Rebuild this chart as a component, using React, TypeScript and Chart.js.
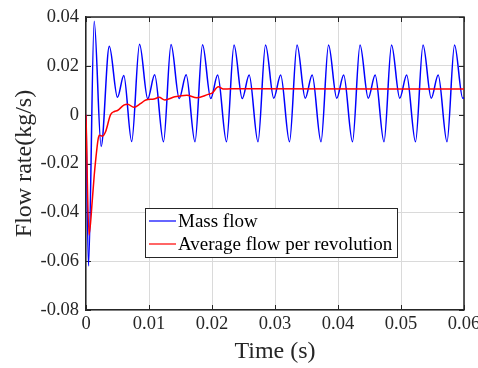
import React, { useEffect, useRef } from 'react';
import { Chart, registerables } from 'chart.js';

Chart.register(...registerables);

const FONT = "'Liberation Serif', 'Times New Roman', serif";
const TEXT = '#262626';

// Mass flow: time (s) and flow rate (kg/s) at the turning points of the curve
const massTime = [
  0, 0.0004, 0.0013, 0.0024, 0.0037, 0.005, 0.006, 0.00725,
  0.0085, 0.0098, 0.0109, 0.0123,
  0.0135, 0.0148, 0.0159, 0.0173,
  0.0185, 0.0198, 0.0209, 0.0223,
  0.0235, 0.0248, 0.0259, 0.0273,
  0.0285, 0.0298, 0.0309, 0.0323,
  0.0335, 0.0348, 0.0359, 0.0373,
  0.0385, 0.0398, 0.0409, 0.0423,
  0.0435, 0.0448, 0.0459, 0.0473,
  0.0485, 0.0498, 0.0509, 0.0523,
  0.0535, 0.0548, 0.0559, 0.0573,
  0.0585, 0.0598, 0.06,
];
const massFlow = [
  0, -0.062, 0.0383, -0.013, 0.028, 0.0071, 0.016, -0.011,
  0.0288, 0.0065, 0.0163, -0.0111,
  0.0287, 0.0066, 0.0163, -0.0111,
  0.0286, 0.0066, 0.0162, -0.0111,
  0.0285, 0.0066, 0.0162, -0.0111,
  0.0285, 0.0067, 0.0162, -0.0111,
  0.0285, 0.0067, 0.0162, -0.0111,
  0.0285, 0.0067, 0.0162, -0.0111,
  0.0285, 0.0067, 0.0162, -0.0111,
  0.0285, 0.0067, 0.0162, -0.0111,
  0.0285, 0.0067, 0.0162, -0.0111,
  0.0285, 0.0067, 0.0069,
];

// Average flow per revolution
const avgTime = [
  0, 0.00048, 0.001, 0.0013, 0.0016, 0.0019, 0.0021, 0.0026, 0.0031, 0.0039,
  0.0045, 0.005, 0.006, 0.0066, 0.0076, 0.0087, 0.0095, 0.0108, 0.0116, 0.0125,
  0.0141, 0.016, 0.0176, 0.0194, 0.02, 0.021, 0.0218, 0.023, 0.06,
];
const avgFlow = [
  0, -0.0493, -0.035, -0.025, -0.017, -0.0104, -0.0084, -0.0088, -0.007, 0,
  0.0013, 0.0017, 0.0039, 0.0043, 0.003, 0.0046, 0.006, 0.0064, 0.0071, 0.006,
  0.0073, 0.008, 0.0069, 0.0083, 0.0088, 0.0114, 0.0105, 0.0106, 0.0105,
];

const xTickLabels = ['0', '0.01', '0.02', '0.03', '0.04', '0.05', '0.06'];
const yTickLabels = ['-0.08', '-0.06', '-0.04', '-0.02', '0', '0.02', '0.04'];
const seriesLabels = ['Mass flow', 'Average flow per revolution'];
const seriesColors = ['#0000ff', '#ff0000'];

const boxPlugin = {
  id: 'matlabBox',
  beforeDatasetsDraw(chart: any) {
    const { ctx, chartArea: a, scales } = chart;
    ctx.save();
    ctx.strokeStyle = TEXT;
    ctx.lineWidth = 1.5;
    ctx.beginPath();
    ctx.moveTo(a.left, a.top);
    ctx.lineTo(a.right, a.top);
    ctx.lineTo(a.right, a.bottom);
    ctx.stroke();
    const L = 5;
    ctx.lineWidth = 1;
    ctx.beginPath();
    scales.x.ticks.forEach((t: any) => {
      const px = Math.round(scales.x.getPixelForValue(t.value)) + 0.5;
      ctx.moveTo(px, a.bottom);
      ctx.lineTo(px, a.bottom - L);
      ctx.moveTo(px, a.top);
      ctx.lineTo(px, a.top + L);
    });
    scales.y.ticks.forEach((t: any) => {
      const py = Math.round(scales.y.getPixelForValue(t.value)) + 0.5;
      ctx.moveTo(a.left, py);
      ctx.lineTo(a.left + L, py);
      ctx.moveTo(a.right, py);
      ctx.lineTo(a.right - L, py);
    });
    ctx.stroke();
    ctx.restore();
  },
};

const legendPlugin = {
  id: 'insideLegend',
  afterDatasetsDraw(chart: any) {
    const { ctx } = chart;
    const x0 = 145, y0 = 208, w = 252, h = 49;
    ctx.save();
    ctx.fillStyle = '#ffffff';
    ctx.fillRect(x0, y0, w, h);
    ctx.strokeStyle = TEXT;
    ctx.lineWidth = 1;
    ctx.strokeRect(x0 + 0.5, y0 + 0.5, w, h);
    ctx.font = `19px ${FONT}`;
    ctx.textBaseline = 'middle';
    ctx.textAlign = 'left';
    chart.data.datasets.forEach((ds: any, i: number) => {
      const y = y0 + 13 + i * 23;
      ctx.strokeStyle = ds.borderColor;
      ctx.lineWidth = 1.2;
      ctx.beginPath();
      ctx.moveTo(x0 + 4, y);
      ctx.lineTo(x0 + 31, y);
      ctx.stroke();
      ctx.fillStyle = '#000000';
      ctx.fillText(ds.label, x0 + 33, y + 1);
    });
    ctx.restore();
  },
};

export default function App() {
  const ref = useRef<HTMLCanvasElement | null>(null);

  useEffect(() => {
    if (!ref.current) return;
    const chart = new Chart(ref.current, {
      type: 'line',
      data: {
        datasets: [
          {
            label: seriesLabels[0],
            data: massTime.map((t, i) => ({ x: t, y: massFlow[i] })),
            borderColor: seriesColors[0],
            borderWidth: 1.5,
            pointRadius: 0,
            cubicInterpolationMode: 'monotone',
            order: 1,
          },
          {
            label: seriesLabels[1],
            data: avgTime.map((t, i) => ({ x: t, y: avgFlow[i] })),
            borderColor: seriesColors[1],
            borderWidth: 1.5,
            pointRadius: 0,
            cubicInterpolationMode: 'monotone',
            order: 0,
          },
        ],
      },
      options: {
        animation: false,
        responsive: false,
        devicePixelRatio: 1,
        layout: { padding: { left: 0, right: 14, top: 17, bottom: 0 } },
        plugins: { legend: { display: false }, tooltip: { enabled: false } },
        scales: {
          x: {
            type: 'linear',
            min: 0,
            max: 0.06,
            afterFit: (s: any) => {
              s.height = 58;
              s.paddingLeft = 0;
              s.paddingRight = 0;
            },
            ticks: {
              stepSize: 0.01,
              autoSkip: false,
              maxRotation: 0,
              padding: 3,
              color: TEXT,
              font: { family: FONT, size: 18.5 },
              callback: (_v: any, i: number) => xTickLabels[i],
            },
            grid: { color: '#dadada', lineWidth: 1, drawTicks: false },
            border: { display: true, color: TEXT, width: 1.5 },
            title: {
              display: true,
              text: 'Time (s)',
              color: TEXT,
              font: { family: FONT, size: 24 },
              padding: { top: 0, bottom: 2 },
            },
          },
          y: {
            type: 'linear',
            min: -0.08,
            max: 0.04,
            afterFit: (s: any) => {
              s.width = 86;
              s.paddingTop = 0;
              s.paddingBottom = 0;
            },
            ticks: {
              stepSize: 0.02,
              autoSkip: false,
              padding: 7,
              color: TEXT,
              font: { family: FONT, size: 18.5 },
              callback: (_v: any, i: number) => yTickLabels[i],
            },
            grid: { color: '#dadada', lineWidth: 1, drawTicks: false },
            border: { display: true, color: TEXT, width: 1.5 },
            title: {
              display: true,
              text: 'Flow rate(kg/s)',
              color: TEXT,
              font: { family: FONT, size: 24 },
              padding: { top: 10, bottom: 0 },
            },
          },
        },
      },
      plugins: [boxPlugin, legendPlugin],
    } as any);
    return () => chart.destroy();
  }, []);

  return (
    <div style={{ position: 'absolute', left: 0, top: 0, width: 478, height: 368 }}>
      <canvas ref={ref} width={478} height={368} style={{ display: 'block' }} />
    </div>
  );
}
